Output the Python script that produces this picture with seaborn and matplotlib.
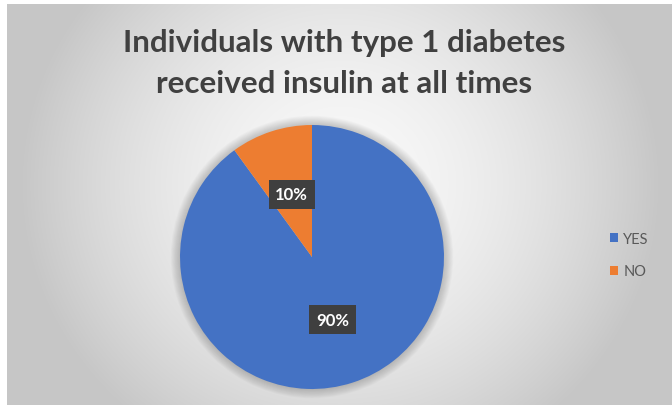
import numpy as np
import matplotlib
matplotlib.use("Agg")
import matplotlib.pyplot as plt
from matplotlib.patches import Circle, Patch
import seaborn as sns

# Survey answers
categories = ["YES", "NO"]
shares = [90, 10]
pct_labels = ["90%", "10%"]
title_lines = ["Individuals with type 1 diabetes", "received insulin at all times"]

sns.set_theme(style="white")
plt.rcParams["font.family"] = ["Lato", "DejaVu Sans"]
colors = sns.color_palette(["#4472C4", "#ED7D31"])

W, H, DPI = 672, 406, 100
fig = plt.figure(figsize=(W / DPI, H / DPI), dpi=DPI, facecolor="white")

# Radial grey gradient panel behind everything
bg = fig.add_axes([7 / W, 0, (W - 7) / W, (H - 5) / H], zorder=-5)
bw, bh = W - 7, H - 5
yy, xx = np.mgrid[0:bh, 0:bw]
cx, cy = 333.0, 180.0
d = np.sqrt(((xx - cx) / 1.0) ** 2 + ((yy - cy) / 0.95) ** 2)
d = d / 400.0
g = 249 - 74 * np.clip(d, 0, 1.2) ** 1.7
g = np.clip(g, 198, 249) / 255.0
bg.imshow(np.dstack([g, g, g]), aspect="auto", extent=[0, 1, 0, 1], origin="upper")
bg.set_axis_off()

# Pie
R = 132
pcx, pcy = 312, 258
ax = fig.add_axes([(pcx - 1.1 * R) / W, (H - pcy - 1.1 * R) / H, 2.2 * R / W, 2.2 * R / H])
ax.set_axis_off()

# soft shadow ring
for i in range(10):
    ax.add_patch(Circle((0, 0), 1.0 + 0.007 * (i + 1), facecolor="black",
                        edgecolor="none", alpha=0.018, zorder=0))

wedges, texts = ax.pie(
    shares, colors=colors, startangle=90, counterclock=False,
    labels=pct_labels, labeldistance=0.5,
    wedgeprops=dict(linewidth=0, zorder=2),
    textprops=dict(color="white", fontsize=12, fontweight="bold", ha="center", va="center"),
)
for t in texts:
    t.set_bbox(dict(boxstyle="square,pad=0.4", facecolor="#3f3f3f", edgecolor="none"))
    t.set_zorder(5)
ax.set_xlim(-1.1, 1.1)
ax.set_ylim(-1.1, 1.1)

# Title
for line, base in zip(title_lines, [52, 93]):
    fig.text(344 / W, (H - base) / H, line, ha="center", va="baseline",
             fontsize=22.6, fontweight="bold", color="#404040")

# Legend
handles = [Patch(facecolor=c, edgecolor="none", label=l) for c, l in zip(colors, categories)]
leg = fig.legend(handles=handles, loc="center left", bbox_to_anchor=(597 / W, (H - 256) / H),
                 frameon=False, fontsize=10.5, handlelength=0.55, handleheight=0.55,
                 handletextpad=0.35, labelspacing=1.3, labelcolor="#595959")

fig.savefig("out.png", dpi=DPI, facecolor="white")
